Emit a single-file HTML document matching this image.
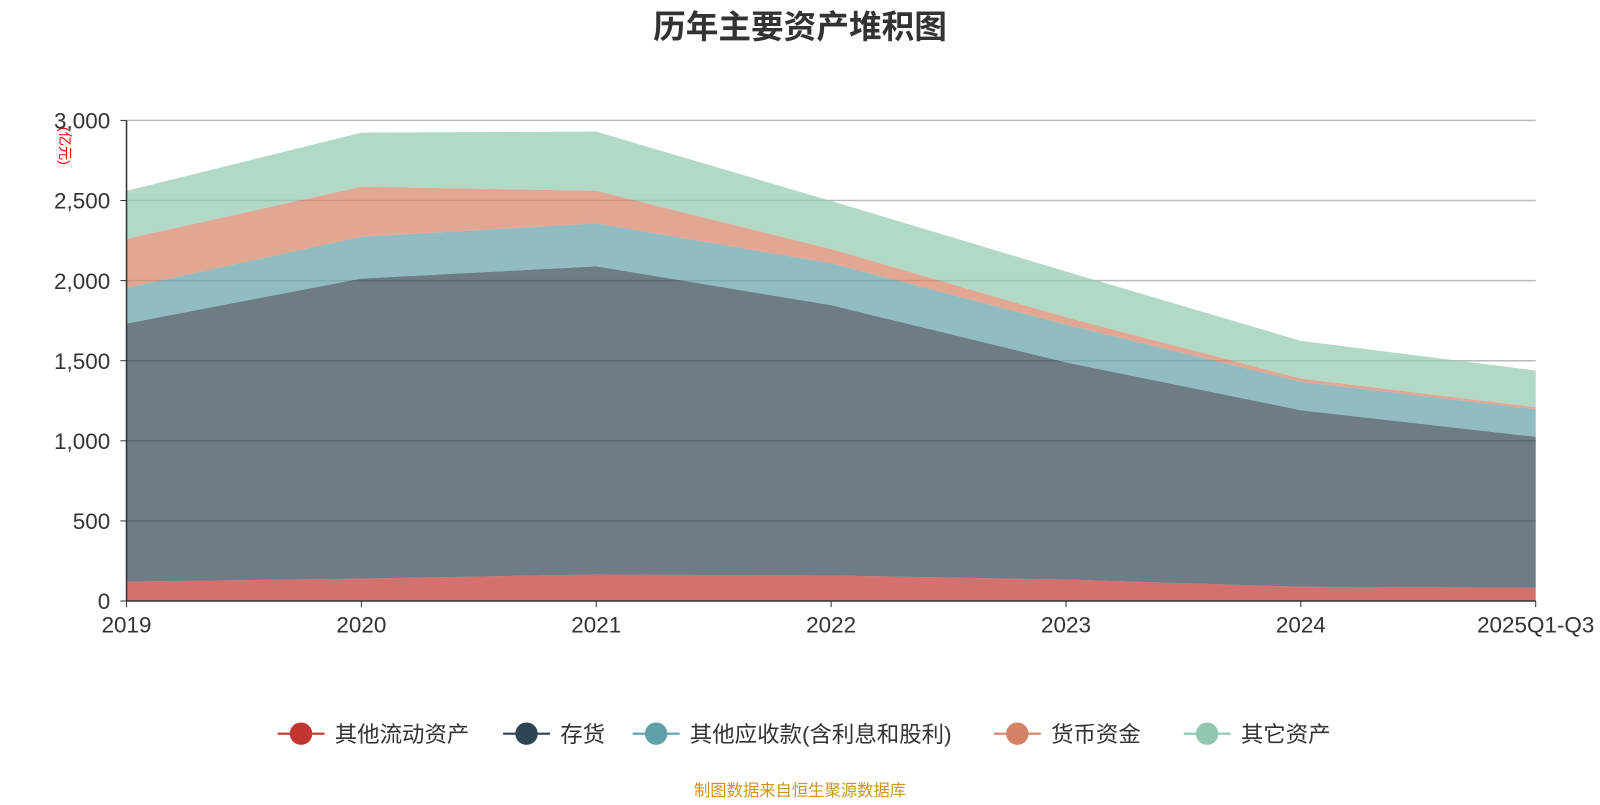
<!DOCTYPE html>
<html><head><meta charset="utf-8"><style>
body{margin:0;background:#fff;font-family:"Liberation Sans","Noto Sans CJK SC",sans-serif}
svg text{font-family:"Liberation Sans","Noto Sans CJK SC",sans-serif}
</style></head><body>
<svg id="c" width="1600" height="800" viewBox="0 0 1568 784">
<text x="784" y="37" text-anchor="middle" font-size="32" font-weight="bold" fill="#333">历年主要资产堆积图</text>
<text transform="translate(59,143) rotate(90)" text-anchor="middle" font-size="14" fill="#e00">(亿元)</text>
<g id="grid"></g><g id="areas"></g><g id="axes"></g><g id="legend"></g>
<text x="784" y="780" text-anchor="middle" font-size="16" fill="#c8961e">制图数据来自恒生聚源数据库</text>
</svg>
<script>
const categories=["2019","2020","2021","2022","2023","2024","2025Q1-Q3"];
const seriesNames=["其他流动资产","存货","其他应收款(含利息和股利)","货币资金","其它资产"];
const otherCurrent=[121,140,166,159,134,89,83];
const inventory=[1611,1873,1923,1688,1356,1102,942];
const otherReceivable=[223,261,268,261,236,178,172];
const cash=[306,312,204,89,45,20,13];
const otherAssets=[299,338,369,300,286,235,229];
const yTicks=[0,500,1000,1500,2000,2500,3000];
const colors=["#c23531","#2f4554","#61a0a8","#d48265","#91c7ae"];
const ns="http://www.w3.org/2000/svg";
const X0=124,X1=1505,Y0=589,Y1=118,YMAX=3000;
const xs=i=>X0+(X1-X0)*i/(categories.length-1);
const ys=v=>Y0-(Y0-Y1)*v/YMAX;
function mk(t,a,p){const e=document.createElementNS(ns,t);for(const k in a)e.setAttribute(k,a[k]);p.appendChild(e);return e;}
const g=document.getElementById('grid'),ar=document.getElementById('areas'),ax=document.getElementById('axes'),lg=document.getElementById('legend');
yTicks.forEach(v=>{
 if(v>0){const l=mk('line',{x1:X0,x2:X1,y1:ys(v),y2:ys(v),stroke:'#bbb','stroke-width':1.5},g);
 
 }
 const t=mk('text',{x:X0-16,y:ys(v)+8,'text-anchor':'end','font-size':22,fill:'#333'},ax);t.textContent=v.toLocaleString('en-US');
 
 
 const tk=mk('line',{x1:X0-6,x2:X0,y1:ys(v),y2:ys(v),stroke:'#333'},ax);
 
 
});
const all=[otherCurrent,inventory,otherReceivable,cash,otherAssets];
let base=categories.map(()=>0);
all.forEach((s,si)=>{
 const top=s.map((v,i)=>base[i]+v);
 let d='M'+top.map((v,i)=>xs(i)+','+ys(v)).join('L');
 for(let i=categories.length-1;i>=0;i--)d+='L'+xs(i)+','+ys(base[i]);
 const p=mk('path',{d:d+'Z',fill:colors[si],'fill-opacity':0.7,stroke:'none'},ar);
 
 
 base=top;
});
mk('line',{x1:X0,x2:X0,y1:Y1,y2:Y0,stroke:'#333','stroke-width':1.5},ax);
mk('line',{x1:X0,x2:X1,y1:Y0,y2:Y0,stroke:'#333','stroke-width':1.5},ax);
categories.forEach((c,i)=>{
 mk('line',{x1:xs(i),x2:xs(i),y1:Y0,y2:Y0+6,stroke:'#333'},ax);
 const t=mk('text',{x:xs(i),y:Y0+31,'text-anchor':'middle','font-size':22,fill:'#333'},ax);t.textContent=c;
 
 
});
const lx=[272,493,620,974,1160];
seriesNames.forEach((n,i)=>{
 const gi=mk('g',{},lg);
 
 
 mk('line',{x1:lx[i],x2:lx[i]+46,y1:719,y2:719,stroke:colors[i],'stroke-width':2},gi);
 mk('circle',{cx:lx[i]+23,cy:719,r:11,fill:colors[i]},gi);
 const t=mk('text',{x:lx[i]+56,y:727,'font-size':22,fill:'#333'},gi);t.textContent=n;
});
</script>
</body></html>
